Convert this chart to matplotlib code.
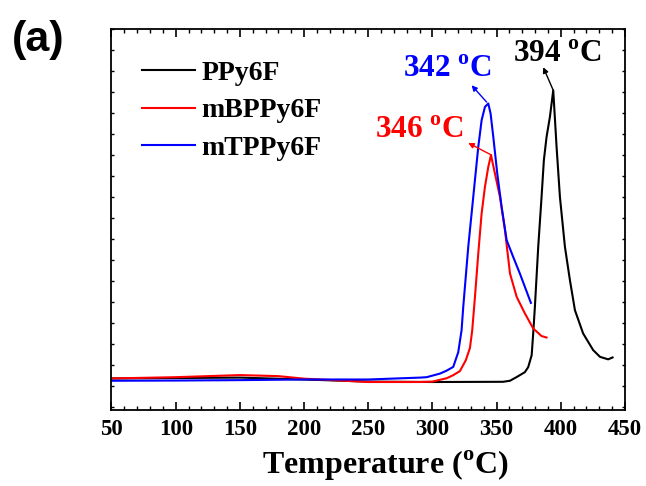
import matplotlib
matplotlib.use("Agg")
import matplotlib.pyplot as plt
from matplotlib.ticker import MultipleLocator, NullFormatter

plt.rcParams["font.family"] = "Liberation Serif"
plt.rcParams["font.weight"] = "bold"
plt.rcParams["mathtext.fontset"] = "custom"
plt.rcParams["mathtext.rm"] = "Liberation Serif:bold"
plt.rcParams["mathtext.bf"] = "Liberation Serif:bold"

# PPy6F (black)
t_ppy = [50, 100, 150, 200, 250, 300, 355, 360.4, 366, 372, 374.6, 377.3, 378.5,
         379.8, 382.4, 385.0, 386.8, 388.9, 391.5, 394.1, 396.7, 399.3, 403.2,
         407.1, 411.0, 417.4, 425.2, 430.5, 436.9, 440.3]
y_ppy = [1.35, 1.37, 1.39, 1.30, 1.20, 1.18, 1.19, 1.24, 1.43, 1.65, 1.89, 2.46, 3.51,
         4.76, 7.62, 10.0, 11.75, 12.86, 13.81, 15.08, 12.38, 10.0, 7.62,
         6.03, 4.60, 3.49, 2.70, 2.38, 2.26, 2.35]

# mBPPy6F (red)
t_mb = [50, 100, 150, 180, 200, 250, 290, 300, 311.1, 316, 321.4, 326, 329.2, 331,
        333.1, 335.7, 338.3, 340.9, 343.5, 345.6, 348.7, 352.6, 356.5, 360.4,
        365.6, 372, 378.5, 385, 388.9]
y_mb = [1.35, 1.41, 1.51, 1.46, 1.34, 1.18, 1.18, 1.20, 1.36, 1.50, 1.70, 2.22, 2.80, 3.65,
        5.22, 7.30, 9.21, 10.48, 11.43, 11.99, 11.11, 10.0, 8.41, 6.35,
        5.24, 4.45, 3.73, 3.37, 3.30]

# mTPPy6F (blue)
t_mt = [50, 100, 150, 200, 250, 290.3, 295.5, 305.8, 311, 316.2, 320.1, 322.7, 324,
        327.9, 330.5, 333.1, 335.7, 338.3, 340.9, 343.5, 345.3, 347.4, 350.5,
        353.9, 357.8, 362.9, 368.1, 376.7]
y_mt = [1.24, 1.25, 1.27, 1.30, 1.30, 1.39, 1.41, 1.58, 1.72, 1.90, 2.60, 3.65, 4.76,
        7.62, 9.21, 10.80, 12.38, 13.65, 14.29, 14.45, 13.97, 12.86, 11.11,
        9.52, 7.94, 7.14, 6.35, 4.95]

fig = plt.figure(figsize=(6.46, 4.86), dpi=100)
ax = fig.add_axes([0.1726, 0.1574, 0.7949, 0.7829])

ax.plot(t_ppy, y_ppy, color="black", lw=1.5, label="PPy6F")
ax.plot(t_mb, y_mb, color="red", lw=1.5, label="mBPPy6F")
ax.plot(t_mt, y_mt, color="blue", lw=1.5, label="mTPPy6F")

# peak annotations
arrow = dict(arrowstyle="-|>", lw=1.0, mutation_scale=8, shrinkA=0, shrinkB=0)
ax.annotate("", xy=(386.3, 16.18), xytext=(394.1, 15.08), arrowprops=dict(color="black", **arrow))
ax.annotate("", xy=(330.5, 15.32), xytext=(342.2, 14.52), arrowprops=dict(color="blue", **arrow))
ax.annotate("", xy=(327.9, 12.57), xytext=(346.1, 11.99), arrowprops=dict(color="red", **arrow))
ax.text(397, 16.41, r"394 $^{\mathbf{o}}$C", color="black", fontsize=22.5, ha="center", va="baseline")
ax.text(311.7, 15.7, r"342 $^{\mathbf{o}}$C", color="blue", fontsize=22.5, ha="center", va="baseline")
ax.text(289.5, 12.8, r"346 $^{\mathbf{o}}$C", color="red", fontsize=22.5, ha="center", va="baseline")

ax.set_xlim(50, 450)
ax.set_ylim(-0.13, 18)
ax.xaxis.set_major_locator(MultipleLocator(50))
ax.xaxis.set_minor_locator(MultipleLocator(10))
ax.yaxis.set_major_locator(MultipleLocator(1))
ax.yaxis.set_major_formatter(NullFormatter())
ax.tick_params(axis="x", which="major", direction="in", length=5.5, width=1.2,
               top=True, labelsize=16.5, pad=7)
ax.tick_params(axis="x", which="minor", direction="in", length=3, width=1.0, top=True)
ax.tick_params(axis="y", which="major", direction="in", length=2.5, width=1.0, right=True)
for lab in ax.get_xticklabels():
    lab.set_fontweight("bold")
for s in ax.spines.values():
    s.set_linewidth(1.3)

ax.set_xlabel(r"Temperature ($^{\mathbf{o}}$C)", fontsize=23, fontweight="bold")
ax.xaxis.set_label_coords(0.534, -0.104)
ax.xaxis.label.set_va("top")

ax.legend(loc="upper left", bbox_to_anchor=(0.059, 0.917), frameon=False,
          handlelength=1.9, handletextpad=0.25, labelspacing=0.43,
          borderpad=0, borderaxespad=0, prop={"weight": "bold", "size": 20})

fig.text(0.019, 0.895, "(a)", fontsize=31, fontweight="bold", family="Liberation Sans",
         va="baseline", ha="left")

fig.savefig("out.png", dpi=100)
